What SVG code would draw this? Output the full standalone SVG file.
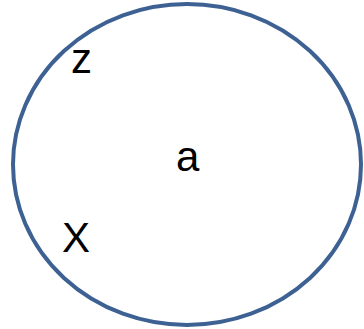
<svg xmlns="http://www.w3.org/2000/svg" width="364" height="329" viewBox="0 0 364 329">
<style>
.lbl{font-family:"Liberation Sans",Arial,sans-serif;font-size:42px;fill:#000}
.set{fill:#fff;stroke:#3D6192;stroke-width:4}
</style>
<rect width="364" height="329" fill="#fff"/>
<g id="set-a">
<ellipse class="set" cx="187" cy="164.5" rx="174" ry="160.5"/>
<text class="lbl" x="176" y="171">a</text>
</g>
<g id="elem-z">
<text class="lbl" x="71" y="73">z</text>
</g>
<g id="elem-X">
<text class="lbl" x="62" y="252">X</text>
</g>
<g id="connectors"/>
</svg>
